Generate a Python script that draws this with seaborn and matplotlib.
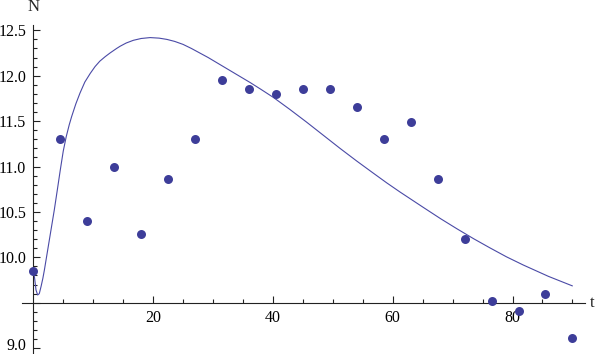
import numpy as np
import pandas as pd
import matplotlib
matplotlib.use("Agg")
import matplotlib.pyplot as plt
import matplotlib.transforms as mtransforms
import seaborn as sns
from matplotlib.ticker import FixedLocator, FixedFormatter

# ---- data ----
obs_t = [0, 4.5, 9, 13.5, 18, 22.5, 27, 31.5, 36, 40.5, 45, 49.5, 54, 58.5,
         63, 67.5, 72, 76.5, 81, 85.5, 90]
obs_n = [9.85, 11.30, 10.40, 11.00, 10.26, 10.86, 11.30, 11.95, 11.85, 11.80,
         11.85, 11.85, 11.65, 11.30, 11.49, 10.86, 10.20, 9.52, 9.41, 9.60, 9.11]

fit_t = [0, 0.2, 0.45, 0.73, 1.0, 1.3, 1.6, 1.85, 2.1, 2.4, 2.95, 3.5, 4.05,
         4.5, 5.0, 5.5, 6.0, 6.4, 7.1, 7.8, 8.6, 9.5, 10.3, 11.1, 12.0, 12.8,
         13.9, 14.5, 15.5, 16.7, 18.0, 19.5, 21.0, 22.3, 23.6, 25.0, 26.4,
         27.8, 29.2, 30.6, 32.0, 33.4, 34.8, 36.2, 38.0, 40.1, 42.8, 45.6,
         48.4, 51.2, 54.0, 56.8, 59.0, 61.2, 65.1, 68.0, 70.7, 73.5, 76.2,
         79.0, 81.8, 86.0, 90.0]
fit_n = [9.85, 9.78, 9.64, 9.585, 9.60, 9.68, 9.77, 9.86, 9.96, 10.08, 10.30,
         10.52, 10.76, 10.96, 11.17, 11.33, 11.46, 11.55, 11.69, 11.81, 11.93,
         12.025, 12.10, 12.16, 12.21, 12.25, 12.30, 12.325, 12.36, 12.39,
         12.41, 12.42, 12.414, 12.40, 12.378, 12.345, 12.30, 12.25, 12.20,
         12.145, 12.09, 12.035, 11.98, 11.925, 11.85, 11.76, 11.63, 11.49,
         11.345, 11.20, 11.06, 10.925, 10.82, 10.72, 10.55, 10.425, 10.315,
         10.205, 10.105, 10.005, 9.915, 9.79, 9.685]

y_major = [9.0, 9.5, 10.0, 10.5, 11.0, 11.5, 12.0, 12.5]
y_labels = ["9.0", "", "10.0", "10.5", "11.0", "11.5", "12.0", "12.5"]
x_major = [20, 40, 60, 80]
x_labels = ["20", "40", "60", "80"]

obs = pd.DataFrame({"t": obs_t, "N": obs_n})
fit = pd.DataFrame({"t": fit_t, "N": fit_n})

sns.set_style("white")
plt.rcParams["font.family"] = ["Liberation Serif", "DejaVu Serif"]

line_color = "#4a4aa6"
dot_color = "#3d3d99"
axis_color = "#222222"

fig = plt.figure(figsize=(5.95, 3.54), dpi=100)
ax = fig.add_axes([0, 0, 1, 1])

sns.lineplot(data=fit, x="t", y="N", ax=ax, color=line_color, linewidth=0.8,
             sort=False, estimator=None, zorder=2)
sns.scatterplot(data=obs, x="t", y="N", ax=ax, color=dot_color, s=42,
                linewidth=0, zorder=3)

ax.set_xlim(-5.56, 93.77)
ax.set_ylim(8.935, 12.834)

ax.spines["top"].set_visible(False)
ax.spines["right"].set_visible(False)
ax.spines["left"].set_position(("data", 0))
ax.spines["bottom"].set_position(("data", 9.5))
ax.spines["left"].set_bounds(8.93, 12.56)
ax.spines["bottom"].set_bounds(-1.9, 92.1)
for s in ("left", "bottom"):
    ax.spines[s].set_color(axis_color)
    ax.spines[s].set_linewidth(0.8)

ax.yaxis.set_major_locator(FixedLocator(y_major))
ax.yaxis.set_major_formatter(FixedFormatter(y_labels))
ax.yaxis.set_minor_locator(FixedLocator([round(9.0 + 0.1 * i, 2) for i in range(36)]))
ax.xaxis.set_major_locator(FixedLocator(x_major))
ax.xaxis.set_major_formatter(FixedFormatter(x_labels))
ax.xaxis.set_minor_locator(FixedLocator([5 * i for i in range(1, 19)]))

ax.tick_params(axis="both", which="both", bottom=True, left=True,
               top=False, right=False)
ax.tick_params(axis="both", which="major", direction="in", length=5,
               width=0.8, color=axis_color, labelsize=11.5, pad=5,
               labelcolor="black")
ax.tick_params(axis="both", which="minor", direction="in", length=2.7,
               width=0.8, color=axis_color)

ax.set_xlabel("")
ax.set_ylabel("")
ax.text(0, 12.84, "N", ha="center", va="top", fontsize=12, transform=ax.transData)
ax.text(92.9, 9.5, "t", ha="left", va="center", fontsize=12)

fig.canvas.draw()
for lab in ax.get_yticklabels():
    if lab.get_text() == "9.0":
        lab.set_transform(lab.get_transform() +
                          mtransforms.ScaledTranslation(0, 3 / 72, fig.dpi_scale_trans))

fig.savefig("out.png", dpi=100)
